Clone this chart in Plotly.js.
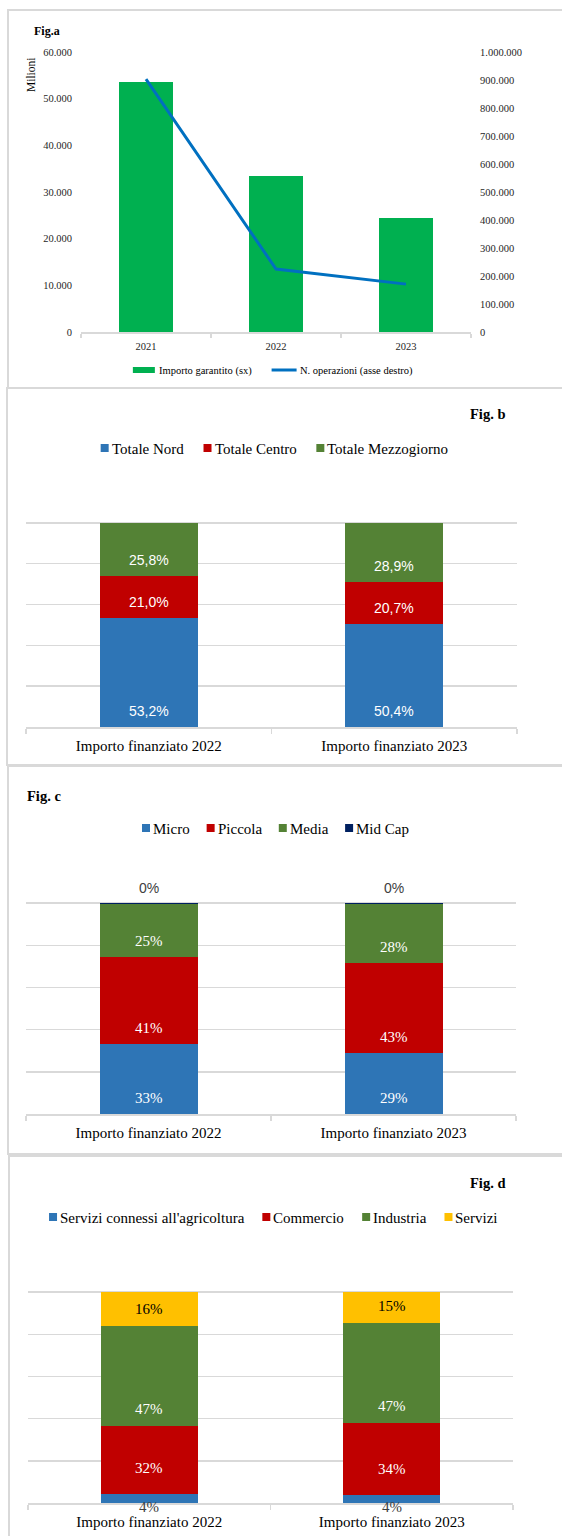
<!DOCTYPE html>
<html><head><meta charset="utf-8">
<script src="https://cdn.plot.ly/plotly-3.0.1.min.js"></script>
<style>html,body{margin:0;padding:0;background:#fff;overflow:hidden}#chart{width:562px;height:1536px}</style>
</head><body><div id="chart"></div>
<script>
// ---------- DATA ----------
// Fig. a
const yearsA = ['2021', '2022', '2023'];
const importoGarantito = [53500, 33400, 24400];      // milioni (asse sx)
const numOperazioni = [903000, 225000, 171000];      // asse dx
const nameImporto = 'Importo garantito (sx)';
const nameOperazioni = 'N. operazioni (asse destro)';
// Shared categories for Fig. b, c, d
const catsBCD = ['Importo finanziato 2022', 'Importo finanziato 2023'];
// Fig. b
const areeNames = ['Totale Nord', 'Totale Centro', 'Totale Mezzogiorno'];
const areeNord = [0.532, 0.504];
const areeCentro = [0.210, 0.207];
const areeMezzogiorno = [0.258, 0.289];
// Fig. c
const dimNames = ['Micro', 'Piccola', 'Media', 'Mid Cap'];
const dimMicro = [0.334, 0.289];
const dimPiccola = [0.412, 0.426];
const dimMedia = [0.251, 0.282];
const dimMidCap = [0.003, 0.003];
// Fig. d
const settNames = ["Servizi connessi all'agricoltura", 'Commercio', 'Industria', 'Servizi'];
const settAgricoltura = [0.042, 0.037];
const settCommercio = [0.322, 0.341];
const settIndustria = [0.474, 0.474];
const settServizi = [0.162, 0.148];

// ---------- STYLE HELPERS ----------
const W = 562, H = 1536;
const px = v => v / W;
const py = v => 1 - v / H;
const SERIF = "'Liberation Serif', 'Times New Roman', serif";
const SANS = "'Liberation Sans', Arial, sans-serif";
const GRID = '#D9D9D9';
const BLUE = '#2E75B6', RED = '#C00000', GREEN = '#548235', NAVY = '#002060', YELLOW = '#FFC000';
const BAR_A = '#00B050', LINE_A = '#0070C0';

const traces = [];
const annotations = [];
const shapes = [];

// Fig. a
traces.push({
  type: 'bar', x: yearsA, y: importoGarantito, name: nameImporto,
  xaxis: 'x', yaxis: 'y', width: 0.41, marker: {color: BAR_A, line: {width: 0}}, hoverinfo: 'skip'
});
traces.push({
  type: 'scatter', mode: 'lines', x: yearsA, y: numOperazioni, name: nameOperazioni,
  xaxis: 'x', yaxis: 'y2', line: {color: LINE_A, width: 3}, hoverinfo: 'skip'
});

// stacked bars + data labels anchored at each segment base
function stacked(seriesList, names, colors, xa, ya, fmt, labelFonts, shifts) {
  const base = catsBCD.map(() => 0);
  seriesList.forEach((vals, i) => {
    traces.push({
      type: 'bar', x: catsBCD, y: vals, name: names[i], xaxis: xa, yaxis: ya,
      width: 0.4, marker: {color: colors[i], line: {width: 0}}, hoverinfo: 'skip'
    });
    vals.forEach((v, j) => {
      annotations.push({
        xref: xa, yref: ya, x: catsBCD[j], y: base[j], yshift: shifts[i],
        text: fmt(v), showarrow: false, xanchor: 'center', yanchor: 'middle', font: labelFonts[i]
      });
      base[j] += v;
    });
  });
}
const fmtPct1 = v => (v * 100).toFixed(1).replace('.', ',') + '%';
const fmtPct0 = v => Math.round(v * 100) + '%';

const wSans = {family: SANS, size: 14, color: '#FFFFFF'};
const wSerif = {family: SERIF, size: 15, color: '#FFFFFF'};
const dSerif = {family: SERIF, size: 15, color: '#000000'};
const dSerifGray = {family: SERIF, size: 15, color: '#404040'};
const dSans = {family: SANS, size: 14, color: '#404040'};

const colsB = [BLUE, RED, GREEN];
const colsC = [BLUE, RED, GREEN, NAVY];
const colsD = [BLUE, RED, GREEN, YELLOW];
stacked([areeNord, areeCentro, areeMezzogiorno], areeNames, colsB, 'x2', 'y3', fmtPct1,
  [wSans, wSans, wSans], [16, 16, 16]);
stacked([dimMicro, dimPiccola, dimMedia, dimMidCap], dimNames, colsC, 'x3', 'y4', fmtPct0,
  [wSerif, wSerif, wSerif, dSans], [16, 16, 16, 16]);
stacked([settAgricoltura, settCommercio, settIndustria, settServizi], settNames, colsD, 'x4', 'y5', fmtPct0,
  [dSerifGray, wSerif, wSerif, dSerif], [-4, 26, 17, 17]);

// ---------- custom compact legends (Excel-like) ----------
const measureCtx = document.createElement('canvas').getContext('2d');
function legendRow(items, centerX, centerY, fontSize, gap) {
  measureCtx.font = fontSize + "px 'Liberation Serif'";
  const widths = items.map(it => it.sw + it.sg + measureCtx.measureText(it.name).width);
  const total = widths.reduce((a, b) => a + b, 0) + gap * (items.length - 1);
  let x = centerX - total / 2;
  items.forEach((it, i) => {
    if (it.kind === 'line') {
      shapes.push({type: 'line', xref: 'paper', yref: 'paper', x0: px(x), x1: px(x + it.sw),
        y0: py(centerY), y1: py(centerY), line: {color: it.color, width: it.sh}});
    } else {
      shapes.push({type: 'rect', xref: 'paper', yref: 'paper', x0: px(x), x1: px(x + it.sw),
        y0: py(centerY + it.sh / 2), y1: py(centerY - it.sh / 2), line: {width: 0}, fillcolor: it.color});
    }
    annotations.push({xref: 'paper', yref: 'paper', x: px(x + it.sw + it.sg - 2), y: py(centerY + 0.5),
      xanchor: 'left', yanchor: 'middle', showarrow: false, text: it.name,
      font: {family: SERIF, size: fontSize, color: '#000'}});
    x += widths[i] + gap;
  });
}
legendRow([
  {name: nameImporto, color: BAR_A, kind: 'rect', sw: 22, sh: 6, sg: 4},
  {name: nameOperazioni, color: LINE_A, kind: 'line', sw: 25, sh: 3, sg: 3}
], 272.5, 370, 10.5, 20);
legendRow(areeNames.map((n, i) => ({name: n, color: colsB[i], kind: 'rect', sw: 8, sh: 8, sg: 3})), 274.5, 448, 15, 20);
legendRow(dimNames.map((n, i) => ({name: n, color: colsC[i], kind: 'rect', sw: 8, sh: 8, sg: 3})), 275.5, 828, 15, 17);
legendRow(settNames.map((n, i) => ({name: n, color: colsD[i], kind: 'rect', sw: 8, sh: 8, sg: 3})), 273.5, 1217, 15, 18);

// Titles / misc text
annotations.push({xref: 'paper', yref: 'paper', x: px(32), y: py(31), xanchor: 'left', yanchor: 'middle', showarrow: false,
  text: '<b>Fig.a</b>', font: {family: SERIF, size: 12, color: '#000'}});
annotations.push({xref: 'paper', yref: 'paper', x: px(31), y: py(75), xanchor: 'center', yanchor: 'middle', showarrow: false,
  text: 'Milioni', textangle: -90, font: {family: SERIF, size: 11.5, color: '#000'}});
annotations.push({xref: 'paper', yref: 'paper', x: px(507), y: py(414), xanchor: 'right', yanchor: 'middle', showarrow: false,
  text: '<b>Fig. b</b>', font: {family: SERIF, size: 14.5, color: '#000'}});
annotations.push({xref: 'paper', yref: 'paper', x: px(25), y: py(796), xanchor: 'left', yanchor: 'middle', showarrow: false,
  text: '<b>Fig. c</b>', font: {family: SERIF, size: 14.5, color: '#000'}});
annotations.push({xref: 'paper', yref: 'paper', x: px(507), y: py(1183), xanchor: 'right', yanchor: 'middle', showarrow: false,
  text: '<b>Fig. d</b>', font: {family: SERIF, size: 14.5, color: '#000'}});

// Panel borders
const box = (x0, y0, x1, y1) => ({type: 'rect', xref: 'paper', yref: 'paper', x0: px(x0), x1: px(x1), y0: py(y1), y1: py(y0),
  line: {color: GRID, width: 2}, fillcolor: 'rgba(0,0,0,0)', layer: 'below'});
shapes.push(box(8, 10, 580, 388), box(7, 388, 580, 765), box(8, 766, 580, 1154), box(9, 1156, 580, 1560));

const tickFontA = {family: SERIF, size: 10.5, color: '#262626'};
const catFont = {family: SERIF, size: 15, color: '#000'};
const catAxis = (d0, d1, anchor) => ({
  domain: [px(d0), px(d1)], anchor: anchor, type: 'category', showline: true, linecolor: GRID, linewidth: 1.5,
  ticks: 'outside', tickson: 'boundaries', ticklen: 5, tickcolor: GRID, tickwidth: 1.5,
  tickfont: catFont, showgrid: false, zeroline: false, fixedrange: true, ticklabelstandoff: 4
});
const pctAxis = (top, bottom, anchor) => ({
  domain: [py(bottom), py(top)], anchor: anchor, range: [0, 1.2], dtick: 0.2, tick0: 0,
  showticklabels: false, showgrid: true, gridcolor: GRID, gridwidth: 1.5, zeroline: false, showline: false,
  ticks: '', fixedrange: true
});

const layout = {
  width: W, height: H, margin: {l: 0, r: 0, t: 0, b: 0}, autosize: false,
  paper_bgcolor: '#fff', plot_bgcolor: 'rgba(0,0,0,0)',
  separators: ',.', barmode: 'stack', showlegend: false, hovermode: false,
  font: {family: SERIF, color: '#000'},
  xaxis: {
    domain: [px(81), px(471)], anchor: 'y', type: 'category', showline: true, linecolor: GRID, linewidth: 1.5,
    ticks: 'outside', tickson: 'boundaries', ticklen: 4, tickcolor: GRID, tickwidth: 1.5,
    tickfont: tickFontA, showgrid: false, zeroline: false, fixedrange: true, ticklabelstandoff: 4
  },
  yaxis: {
    domain: [py(332), py(52)], anchor: 'x', range: [0, 60000], dtick: 10000, tickformat: ',d',
    showgrid: false, zeroline: false, showline: false, ticks: '', tickfont: tickFontA, fixedrange: true,
    ticklabelstandoff: 8
  },
  yaxis2: {
    overlaying: 'y', side: 'right', anchor: 'x', range: [0, 1000000], dtick: 100000, tickformat: ',d',
    showgrid: false, zeroline: false, showline: false, ticks: '', tickfont: tickFontA, fixedrange: true,
    ticklabelstandoff: 8
  },
  xaxis2: catAxis(26, 517, 'y3'),
  yaxis3: pctAxis(482, 727, 'x2'),
  xaxis3: catAxis(26, 516, 'y4'),
  yaxis4: pctAxis(861, 1114, 'x3'),
  xaxis4: catAxis(28, 513, 'y5'),
  yaxis5: pctAxis(1250, 1503, 'x4'),
  annotations: annotations,
  shapes: shapes
};

Plotly.newPlot('chart', traces, layout, {displayModeBar: false, staticPlot: true});
</script>
</body></html>
